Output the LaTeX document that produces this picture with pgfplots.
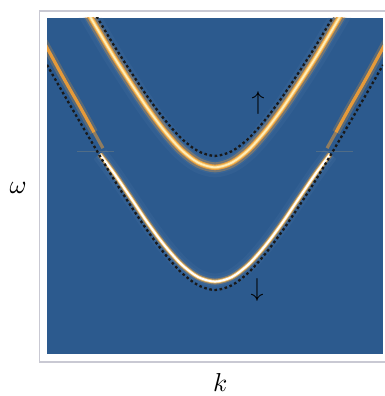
\documentclass[border=0pt]{standalone}
\usepackage{pgfplots}
\pgfplotsset{compat=1.18}
\definecolor{bg}{HTML}{2C5A8E}
\definecolor{framec}{HTML}{C9C9D3}
\definecolor{orng}{HTML}{E59A3A}
\definecolor{lorng}{HTML}{F5C266}
\definecolor{cream}{HTML}{FFEDB8}
\definecolor{glow}{HTML}{7F9CC2}
\pgfplotstableread{
x y
-0.78 2.070
-0.7 1.934
-0.6 1.766
-0.5 1.610
-0.4 1.461
-0.3 1.327
-0.2 1.215
-0.1 1.139
0 1.111
0.1 1.139
0.2 1.215
0.3 1.327
0.4 1.461
0.5 1.610
0.6 1.766
0.7 1.934
0.78 2.070
}\upperband
\pgfplotstableread{
x y
-0.685 1.190
-0.6 1.075
-0.5 0.928
-0.4 0.780
-0.3 0.646
-0.2 0.534
-0.1 0.458
0 0.431
0.1 0.458
0.2 0.534
0.3 0.646
0.4 0.780
0.5 0.928
0.6 1.075
0.685 1.190
}\lowerband
\begin{document}
\begin{tikzpicture}
\begin{axis}[at={(0,0)}, anchor=south west, scale only axis,
  width=351bp, height=351bp, xmin=0, xmax=1, ymin=0, ymax=1,
  axis line style={framec, line width=1.2bp}, xtick=\empty, ytick=\empty,
  xlabel={$k$}, ylabel={$\omega$},
  xlabel style={at={(axis description cs:0.515,-0.057)}, anchor=center, scale=2.6},
  ylabel style={at={(axis description cs:-0.061,0.496)}, anchor=center, rotate=-90, scale=2.6}]
\end{axis}
\begin{axis}[at={(7.5bp,8bp)}, anchor=south west, scale only axis,
  width=336bp, height=336bp, xmin=-1, xmax=1, ymin=0, ymax=2,
  axis line style={draw=none}, xtick=\empty, ytick=\empty, clip=true]
% background
\addplot[fill=bg, draw=none] coordinates {(-1,0) (1,0) (1,2) (-1,2)} -- cycle;
% soft glows
\addplot[glow, opacity=0.08, line width=20bp, smooth] table {\upperband};
\addplot[glow, opacity=0.10, line width=13bp, smooth] table {\upperband};
\addplot[glow, opacity=0.08, line width=16bp, smooth] table {\lowerband};
\addplot[glow, opacity=0.10, line width=10bp, smooth] table {\lowerband};
% lower band outer orange parts
\addplot[orng, opacity=0.25, line width=8bp, smooth] coordinates {(-1.02,1.86) (-0.9,1.64) (-0.8,1.465) (-0.72,1.32)};
\addplot[orng, line width=3.2bp, smooth] coordinates {(-1.02,1.86) (-0.9,1.64) (-0.8,1.465) (-0.72,1.32)};
\addplot[orng, opacity=0.55, line width=3.2bp] coordinates {(-0.72,1.32) (-0.667,1.225)};
\addplot[orng, opacity=0.25, line width=8bp, smooth] coordinates {(1.02,1.86) (0.9,1.64) (0.8,1.465) (0.72,1.32)};
\addplot[orng, line width=3.2bp, smooth] coordinates {(1.02,1.86) (0.9,1.64) (0.8,1.465) (0.72,1.32)};
\addplot[orng, opacity=0.55, line width=3.2bp] coordinates {(0.72,1.32) (0.667,1.225)};
% faint glints at the crossing
\addplot[lorng, opacity=0.18, line width=1.2bp] coordinates {(-0.82,1.205) (-0.6,1.205)};
\addplot[lorng, opacity=0.18, line width=1.2bp] coordinates {(0.6,1.205) (0.82,1.205)};
% upper band
\addplot[orng, opacity=0.35, line width=10bp, smooth] table {\upperband};
\addplot[orng, line width=5.5bp, smooth] table {\upperband};
\addplot[lorng, line width=3.5bp, smooth] table {\upperband};
\addplot[cream, line width=1.8bp, smooth] table {\upperband};
% lower bright band
\addplot[orng, opacity=0.45, line width=6bp, smooth] table {\lowerband};
\addplot[lorng, line width=3.6bp, smooth] table {\lowerband};
\addplot[white, line width=2bp, smooth] table {\lowerband};
% dashed curves
\addplot[black!90, line width=2.3bp, dash pattern=on 2.6bp off 2.6bp, smooth] coordinates {(-0.72,2.036) (-0.7,2.002) (-0.6,1.834) (-0.5,1.678) (-0.4,1.529) (-0.3,1.395) (-0.2,1.283) (-0.1,1.207) (0,1.179) (0.1,1.207) (0.2,1.283) (0.3,1.395) (0.4,1.529) (0.5,1.678) (0.6,1.834) (0.7,2.002) (0.72,2.036)};
\addplot[black!90, line width=2.3bp, dash pattern=on 2.6bp off 2.6bp, smooth] coordinates {(-1,1.721) (-0.9,1.546) (-0.8,1.374) (-0.7,1.204) (-0.6,1.036) (-0.5,0.880) (-0.4,0.731) (-0.3,0.597) (-0.2,0.485) (-0.1,0.409) (0,0.381) (0.1,0.409) (0.2,0.485) (0.3,0.597) (0.4,0.731) (0.5,0.880) (0.6,1.036) (0.7,1.204) (0.8,1.374) (0.9,1.546) (1,1.721)};
% spin arrows
\node at (axis cs:0.256,1.494) {\scalebox{2.6}{$\uparrow$}};
\node at (axis cs:0.25,0.381) {\scalebox{2.6}{$\downarrow$}};
\end{axis}
\pgfresetboundingbox
\useasboundingbox (-39.5bp,-34bp) rectangle (345.5bp,362bp);
\end{tikzpicture}
\end{document}
